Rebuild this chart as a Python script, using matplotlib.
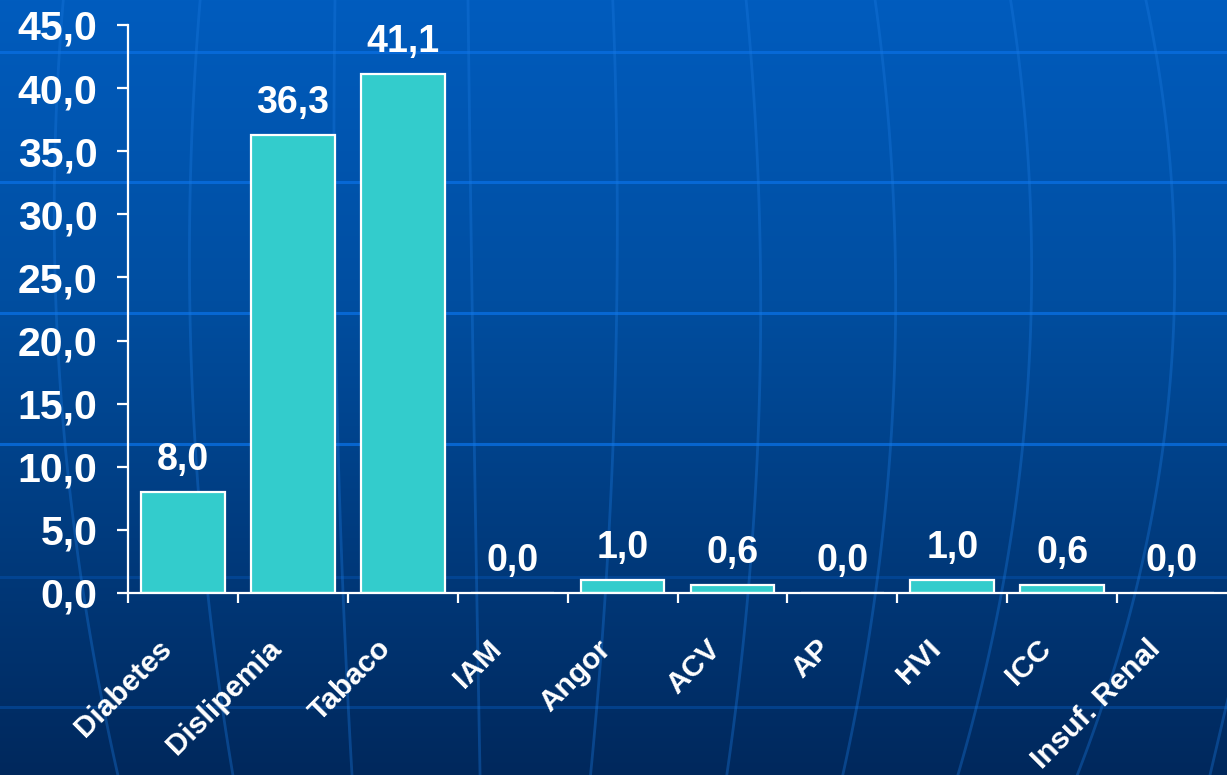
import numpy as np
import matplotlib.pyplot as plt
from matplotlib.transforms import ScaledTranslation

categories = ["Diabetes", "Dislipemia", "Tabaco", "IAM", "Angor",
              "ACV", "AP", "HVI", "ICC", "Insuf. Renal"]
values = [8.0, 36.3, 41.1, 0.0, 1.0, 0.6, 0.0, 1.0, 0.6, 0.0]
yticks = [0, 5, 10, 15, 20, 25, 30, 35, 40, 45]

W, H = 1227, 775
fig = plt.figure(figsize=(W / 100, H / 100), dpi=100)

# fondo: degradado azul con la rejilla del globo
bg = fig.add_axes([0, 0, 1, 1], zorder=0)
bg.set_xlim(0, W)
bg.set_ylim(H, 0)
bg.axis("off")
yy = np.arange(H)
stops = [0, 300, H]
r = np.interp(yy, stops, [0, 0, 0]) / 255
g = np.interp(yy, stops, [92, 78, 40]) / 255
b = np.interp(yy, stops, [190, 160, 92]) / 255
grad = np.stack([r, g, b], axis=1)[:, None, :].repeat(2, axis=1)
bg.imshow(grad, extent=[0, W, H, 0], aspect="auto")

hlines = [52, 182, 313, 444, 577, 707]
halpha = [0.8, 0.8, 0.8, 0.8, 0.25, 0.3]
for yl, a in zip(hlines, halpha):
    bg.axhline(yl, color="#0a6ee0", lw=2.2, alpha=a)

meridians = [
    ([0, 200, 450, 775], [63, 55, 65, 118]),
    ([0, 250, 450, 775], [200, 190, 195, 233]),
    ([0, 300, 775], [335, 335, 352]),
    ([0, 300, 600, 775], [468, 472, 477, 480]),
    ([0, 300, 600, 775], [613, 616, 606, 590]),
    ([0, 300, 600, 775], [746, 761, 747, 727]),
    ([0, 300, 600, 775], [875, 896, 874, 843]),
    ([0, 300, 600, 775], [1011, 1030, 1002, 957]),
    ([0, 300, 600, 775], [1146, 1174, 1134, 1077]),
    ([690, 775], [1230, 1210]),
]
for ys, xs in meridians:
    deg = min(2, len(ys) - 1)
    p = np.polyfit(ys, xs, deg)
    ycur = np.linspace(ys[0], ys[-1], 100)
    bg.plot(np.polyval(p, ycur), ycur, color="#1a7ae0", lw=2, alpha=0.35)

# grafico
ax = fig.add_axes([128 / W, 1 - 593 / H, 1 - 128 / W, (593 - 25) / H], zorder=1)
ax.set_facecolor("none")
x = np.arange(len(categories))
ax.bar(x, values, width=0.76, color="#33CCCC", edgecolor="white", linewidth=1.6)

ax.set_xlim(-0.5, len(categories) - 0.5)
ax.set_ylim(0, 45)

for s in ["top", "right"]:
    ax.spines[s].set_visible(False)
for s in ["left", "bottom"]:
    ax.spines[s].set_color("white")
    ax.spines[s].set_linewidth(1.6)

font = "Liberation Sans"
ax.set_yticks(yticks)
ax.set_yticklabels([f"{v:.1f}".replace(".", ",") for v in yticks],
                   fontsize=29.5, fontweight="bold", color="white", family=font)
ax.tick_params(axis="y", colors="white", length=8, width=1.6, pad=14)

ax.set_xticks(x - 0.5)
ax.set_xticklabels([])
ax.tick_params(axis="x", which="major", colors="white", length=7, width=1.6)
ax.set_xticks(x, minor=True)
ax.set_xticklabels(categories, minor=True, rotation=45, ha="right", va="center",
                   rotation_mode="anchor", fontsize=21.5, fontweight="bold",
                   color="white", family=font)
ax.tick_params(axis="x", which="minor", length=0, pad=37)
off = ScaledTranslation(-16 / 100, 0, fig.dpi_scale_trans)
for lab in ax.get_xticklabels(minor=True):
    lab.set_transform(lab.get_transform() + off)

for xi, v in zip(x, values):
    ax.annotate(f"{v:.1f}".replace(".", ","), (xi, v), xytext=(0, 16),
                textcoords="offset points", ha="center", va="baseline",
                fontsize=27, fontweight="bold", color="white", family=font)

fig.savefig("out.png", dpi=100)
